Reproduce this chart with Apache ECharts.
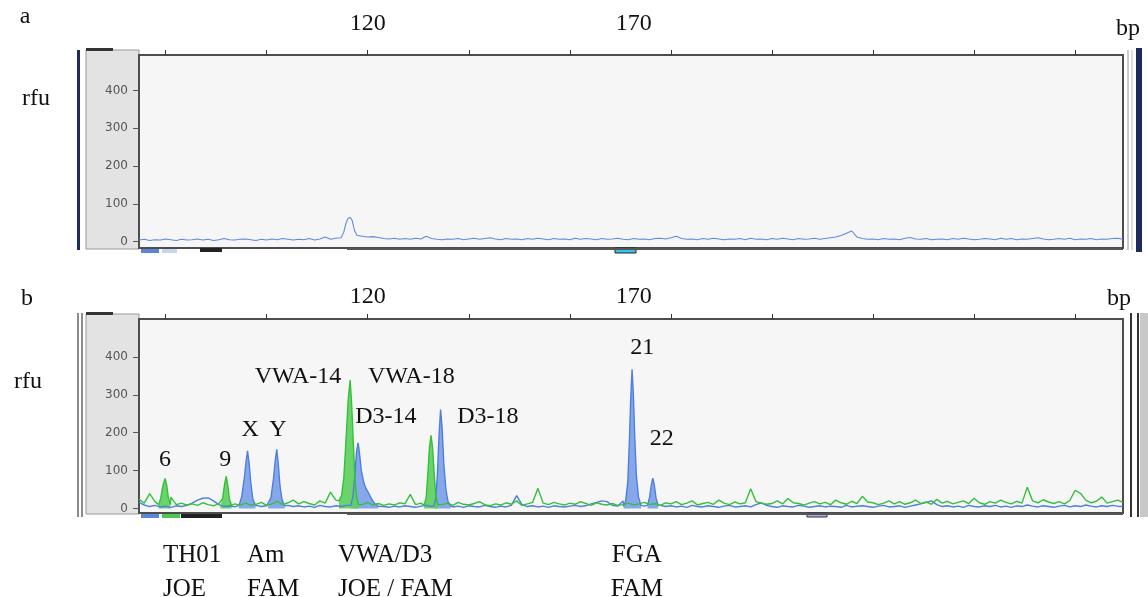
<!DOCTYPE html>
<html>
<head>
<meta charset="utf-8">
<title>Electropherogram</title>
<script src="https://cdn.jsdelivr.net/npm/echarts@6/dist/echarts.min.js"></script>
<style>
  html, body { margin: 0; padding: 0; background: #fff; }
  #main { width: 1148px; height: 597px; }
</style>
</head>
<body>
<div id="main"></div>
<script>
  // x axis in bp, samples every 1 bp starting at X_START
  const X_MIN = 77, X_MAX = 262, X_START = 77;
  const xTicks = [82, 101, 120, 139, 158, 177, 196, 215, 234, 253];
  const xTickLabels = [120, 170];
  const yTickValues = [0, 100, 200, 300, 400];

  // panel a: blue trace (rfu), bp 77..262
  const traceA = [
    4, 6, 3, 5, 4, 7, 5, 3, 6, 4,
    5, 7, 4, 6, 3, 5, 8, 5, 4, 6,
    7, 5, 3, 6, 4, 7, 5, 8, 6, 4,
    6, 5, 8, 4, 7, 12, 6, 9, 12, 40,
    60, 20, 14, 12, 13, 11, 8, 7, 9, 6,
    8, 6, 9, 7, 14, 8, 6, 5, 7, 6,
    8, 5, 7, 9, 6, 8, 10, 7, 5, 8,
    6, 7, 5, 8, 6, 9, 7, 5, 8, 6,
    7, 5, 9, 6, 8, 7, 5, 8, 6, 7,
    9, 6, 5, 8, 6, 7, 5, 8, 9, 7,
    10, 14, 8, 6, 7, 5, 8, 6, 9, 7,
    5, 7, 6, 8, 5, 9, 6, 7, 5, 8,
    6, 9, 7, 5, 8, 6, 7, 9, 6, 8,
    10, 12, 16, 22, 28, 12, 8, 6, 7, 5,
    8, 6, 7, 5, 9, 11, 7, 6, 8, 5,
    6, 7, 5, 8, 6, 9, 7, 5, 6, 8,
    7, 5, 9, 6, 8, 5, 7, 6, 8, 10,
    7, 5, 6, 8, 6, 9, 5, 7, 6, 8,
    5, 7, 6, 8, 9, 6
  ];
  const peakA = [[115.0, 10], [115.5, 25], [115.9, 48], [116.3, 62], [116.7, 64], [117.1, 55], [117.5, 30], [118.0, 16]];

  // panel b: blue (FAM) and green (JOE) traces, bp 77..262
  const blueB = [
    16, 9, 5, 8, 4, 6, 3, 7, 5, 8,
    14, 22, 27, 28, 20, 10, 5, 7, 4, 6,
    60, 30, 8, 5, 7, 6, 40, 70, 8, 5,
    7, 4, 6, 3, 8, 5, 4, 7, 5, 8,
    30, 170, 80, 40, 22, 8, 5, 3, 6, 4,
    7, 5, 3, 6, 8, 5, 40, 180, 7, 4,
    6, 3, 7, 5, 4, 8, 5, 3, 6, 4,
    8, 34, 10, 5, 7, 4, 6, 3, 7, 5,
    4, 6, 8, 5, 7, 12, 16, 20, 18, 8,
    6, 20, 300, 180, 10, 6, 60, 40, 8, 5,
    7, 4, 6, 3, 8, 5, 4, 7, 5, 3,
    6, 8, 4, 5, 7, 4, 10, 15, 8, 5,
    3, 7, 5, 4, 8, 6, 3, 5, 7, 4,
    6, 5, 3, 8, 4, 6, 7, 5, 3, 6,
    8, 4, 5, 7, 3, 6, 9, 12, 16, 20,
    10, 5, 7, 4, 6, 3, 8, 5, 4, 7,
    5, 8, 4, 6, 3, 7, 5, 9, 6, 4,
    7, 5, 3, 6, 8, 4, 7, 5, 9, 6,
    4, 7, 5, 8, 6, 5
  ];
  const greenB = [
    24, 14, 39, 18, 40, 70, 30, 10, 14, 9,
    12, 8, 15, 10, 7, 13, 50, 30, 12, 8,
    14, 9, 11, 16, 8, 12, 19, 10, 15, 22,
    12, 18, 13, 9, 20, 14, 43, 22, 60, 300,
    200, 30, 10, 16, 9, 13, 8, 12, 9, 15,
    12, 37, 10, 14, 80, 150, 30, 10, 14, 8,
    16, 11, 9, 13, 18, 10, 7, 12, 9, 15,
    11, 20, 8, 12, 16, 53, 14, 10, 16, 12,
    9, 14, 11, 18, 13, 8, 15, 11, 9, 13,
    8, 10, 14, 9, 12, 16, 10, 13, 8, 15,
    12, 18, 10, 14, 20, 9, 13, 16, 11, 22,
    14, 10, 17, 12, 15, 52, 18, 14, 11, 13,
    20, 12, 26, 15, 13, 9, 14, 18, 12, 16,
    10, 22, 15, 11, 19, 13, 32, 17, 15, 10,
    14, 20, 12, 18, 11, 15, 22, 13, 17, 11,
    24, 14, 19, 12, 16, 20, 13, 27, 15, 11,
    18, 14, 22, 16, 12, 19, 14, 56, 20, 15,
    23, 17, 13, 18, 12, 21, 48, 40, 22, 15,
    19, 30, 14, 18, 22, 16
  ];

  // called peaks, finer sampling [bp, rfu]
  const peakX = [[95.8, 8], [96.3, 30], [96.8, 80], [97.1, 120], [97.4, 152], [97.7, 120], [98.0, 70], [98.4, 25], [98.9, 8]];
  const peakY = [[101.3, 8], [101.8, 28], [102.3, 80], [102.6, 125], [102.9, 156], [103.2, 115], [103.5, 60], [103.9, 22], [104.4, 7]];
  const peakD314 = [[116.8, 8], [117.2, 30], [117.6, 90], [117.9, 150], [118.2, 173], [118.5, 140], [118.8, 100], [119.2, 72], [119.6, 55], [120.1, 42], [120.7, 26], [121.3, 13], [122.0, 6]];
  const peakD318 = [[132.4, 6], [132.8, 25], [133.1, 90], [133.4, 190], [133.7, 261], [134.0, 210], [134.3, 120], [134.7, 50], [135.1, 18], [135.6, 6]];
  const peak21 = [[168.1, 6], [168.5, 20], [168.9, 70], [169.2, 180], [169.45, 290], [169.7, 367], [169.95, 300], [170.2, 190], [170.5, 90], [170.9, 30], [171.4, 8]];
  const peak22 = [[172.6, 8], [173.0, 30], [173.3, 60], [173.6, 80], [173.9, 60], [174.2, 28], [174.6, 8]];
  const peak6 = [[80.7, 10], [81.1, 28], [81.5, 60], [81.9, 79], [82.2, 62], [82.5, 30], [82.9, 10]];
  const peak9 = [[92.3, 8], [92.7, 25], [93.1, 65], [93.4, 85], [93.7, 60], [94.0, 25], [94.4, 8]];
  const peakVWA14 = [[114.6, 20], [115.1, 35], [115.5, 80], [115.8, 150], [116.05, 215], [116.35, 290], [116.7, 339], [117.0, 270], [117.3, 170], [117.6, 80], [117.9, 30], [118.3, 10]];
  const peakVWA18 = [[130.6, 8], [131.0, 30], [131.3, 90], [131.6, 160], [131.9, 193], [132.2, 160], [132.5, 90], [132.8, 35], [133.2, 10]];
  const bluePeaks = [peakX, peakY, peakD314, peakD318, peak21, peak22];
  const greenPeaks = [peak6, peak9, peakVWA14, peakVWA18];

  // annotations
  const peakLabels = [
    [81.9, 128, '6'], [93.2, 128, '9'], [97.9, 207, 'X'], [103.1, 207, 'Y'],
    [106.9, 347, 'VWA-14'], [128.2, 347, 'VWA-18'], [123.4, 241, 'D3-14'],
    [142.6, 241, 'D3-18'], [171.6, 423, '21'], [175.3, 183, '22']
  ];
  const locusLabels = [
    {bp: 81.5, text: 'TH01\nJOE', align: 'left'},
    {bp: 97.3, text: 'Am\nFAM', align: 'left'},
    {bp: 114.4, text: 'VWA/D3\nJOE / FAM', align: 'left'},
    {bp: 170.6, text: 'FGA\nFAM', align: 'center'}
  ];

  const SERIF = "'Liberation Serif', 'Times New Roman', serif";
  const BLUE = '#4f7fdc', BLUE_FILL = '#7aa0ea', GREEN = '#34c03a', GREEN_FILL = '#5ccf5c';

  function buildTrace(base, peaks) {
    let pts = [];
    base.forEach((v, i) => {
      const bp = X_START + i;
      const inPeak = peaks.some(p => bp >= p[0][0] && bp <= p[p.length - 1][0]);
      if (!inPeak) pts.push([bp, v]);
    });
    peaks.forEach(p => p.forEach(pt => pts.push(pt)));
    return pts.sort((a, b) => a[0] - b[0]);
  }

  function fillSeries(peaks, color) {
    return peaks.map(p => ({
      type: 'line', xAxisIndex: 1, yAxisIndex: 1, data: p,
      symbol: 'none', silent: true, z: 1,
      lineStyle: {width: 0},
      areaStyle: {color: color, opacity: 0.9}
    }));
  }

  function xAxisFor(idx, margin) {
    return {
      gridIndex: idx, type: 'value', position: 'top', min: X_MIN, max: X_MAX,
      axisLine: {show: false, onZero: false}, splitLine: {show: false},
      axisTick: {customValues: xTicks, length: 5, lineStyle: {color: '#333', width: 1}},
      axisLabel: {customValues: xTickLabels, margin: margin, fontSize: 24, lineHeight: 24,
        fontFamily: SERIF, color: '#111'}
    };
  }

  function yAxisFor(idx, min, max) {
    return {
      gridIndex: idx, type: 'value', min: min, max: max,
      axisLine: {show: false, onZero: false}, splitLine: {show: false},
      axisTick: {customValues: yTickValues, length: 6, lineStyle: {color: '#555'}},
      axisLabel: {customValues: yTickValues, margin: 11, fontSize: 12,
        fontFamily: 'DejaVu Sans', color: '#555'}
    };
  }

  const chart = echarts.init(document.getElementById('main'));
  const gridStyle = {show: true, backgroundColor: '#f6f6f6', borderColor: '#4d4d4d', borderWidth: 2};

  chart.setOption({
    animation: false,
    grid: [
      Object.assign({left: 139, top: 55, width: 984, height: 193}, gridStyle),
      Object.assign({left: 139, top: 319, width: 984, height: 194}, gridStyle)
    ],
    xAxis: [xAxisFor(0, 19), xAxisFor(1, 10)],
    yAxis: [yAxisFor(0, -17, 494), yAxisFor(1, -12, 500)],
    series: [
      {
        type: 'line', xAxisIndex: 0, yAxisIndex: 0, data: buildTrace(traceA, [peakA]),
        symbol: 'none', lineStyle: {color: '#6189dc', width: 1.1}, z: 3
      },
      ...fillSeries(bluePeaks, BLUE_FILL),
      ...fillSeries(greenPeaks, GREEN_FILL),
      {
        type: 'line', xAxisIndex: 1, yAxisIndex: 1, data: buildTrace(blueB, bluePeaks),
        symbol: 'none', lineStyle: {color: BLUE, width: 1.4}, z: 3
      },
      {
        type: 'line', xAxisIndex: 1, yAxisIndex: 1, data: buildTrace(greenB, greenPeaks),
        symbol: 'none', lineStyle: {color: GREEN, width: 1.4}, z: 3
      },
      {
        type: 'scatter', xAxisIndex: 1, yAxisIndex: 1, data: peakLabels,
        symbolSize: 0, silent: true, z: 5, itemStyle: {opacity: 1},
        label: {show: true, position: 'inside', formatter: p => p.value[2],
          fontSize: 24, fontFamily: SERIF, color: '#111'}
      }
    ]
  });

  // window chrome around the two panels
  const graphics = [
    // panel a
    {type: 'rect', shape: {x: 77, y: 50, width: 3, height: 200}, style: {fill: '#1d2b5e'}, z: -10},
    {type: 'rect', shape: {x: 86, y: 50, width: 53, height: 199}, style: {fill: '#e3e3e3', stroke: '#9a9a9a'}, z: -10},
    {type: 'rect', shape: {x: 86, y: 48, width: 27, height: 3}, style: {fill: '#333'}},
    {type: 'line', shape: {x1: 1128, y1: 50, x2: 1128, y2: 250}, style: {stroke: '#999'}},
    {type: 'line', shape: {x1: 1132, y1: 50, x2: 1132, y2: 250}, style: {stroke: '#bbb'}},
    {type: 'rect', shape: {x: 1136, y: 48, width: 6, height: 204}, style: {fill: '#1d2b5e'}},
    {type: 'rect', shape: {x: 141, y: 249, width: 18, height: 4}, style: {fill: '#5b85d8'}},
    {type: 'rect', shape: {x: 162, y: 249, width: 15, height: 4}, style: {fill: '#c8d4f0'}},
    {type: 'rect', shape: {x: 200, y: 248, width: 22, height: 4}, style: {fill: '#222'}},
    {type: 'rect', shape: {x: 615, y: 248, width: 21, height: 5}, style: {fill: '#33c6ea', stroke: '#222'}},
    {type: 'line', shape: {x1: 347, y1: 249, x2: 1123, y2: 249}, style: {stroke: '#555', lineWidth: 2}},
    // panel b
    {type: 'line', shape: {x1: 78, y1: 313, x2: 78, y2: 517}, style: {stroke: '#666', lineWidth: 1.5}},
    {type: 'line', shape: {x1: 82, y1: 313, x2: 82, y2: 517}, style: {stroke: '#666', lineWidth: 1.5}},
    {type: 'rect', shape: {x: 86, y: 314, width: 53, height: 200}, style: {fill: '#e3e3e3', stroke: '#9a9a9a'}, z: -10},
    {type: 'rect', shape: {x: 86, y: 312, width: 27, height: 3}, style: {fill: '#333'}},
    {type: 'line', shape: {x1: 1131, y1: 313, x2: 1131, y2: 517}, style: {stroke: '#333', lineWidth: 2}},
    {type: 'line', shape: {x1: 1138, y1: 313, x2: 1138, y2: 517}, style: {stroke: '#333', lineWidth: 2}},
    {type: 'rect', shape: {x: 1140, y: 313, width: 8, height: 204}, style: {fill: '#c8c8c8'}},
    {type: 'rect', shape: {x: 141, y: 514, width: 18, height: 4}, style: {fill: '#5b85d8'}},
    {type: 'rect', shape: {x: 162, y: 514, width: 18, height: 4}, style: {fill: '#4cc94c'}},
    {type: 'rect', shape: {x: 181, y: 514, width: 41, height: 4}, style: {fill: '#222'}},
    {type: 'rect', shape: {x: 807, y: 513, width: 20, height: 4}, style: {fill: '#a9a9f5', stroke: '#333'}},
    {type: 'line', shape: {x1: 347, y1: 514, x2: 1123, y2: 514}, style: {stroke: '#555', lineWidth: 2}},
    // panel letters and units
    {type: 'text', x: 25, y: 17, style: {text: 'a', font: '24px ' + SERIF, fill: '#111', textAlign: 'center', textVerticalAlign: 'middle'}},
    {type: 'text', x: 27, y: 299, style: {text: 'b', font: '24px ' + SERIF, fill: '#111', textAlign: 'center', textVerticalAlign: 'middle'}},
    {type: 'text', x: 36, y: 99, style: {text: 'rfu', font: '24px ' + SERIF, fill: '#111', textAlign: 'center', textVerticalAlign: 'middle'}},
    {type: 'text', x: 28, y: 382, style: {text: 'rfu', font: '24px ' + SERIF, fill: '#111', textAlign: 'center', textVerticalAlign: 'middle'}},
    {type: 'text', x: 1128, y: 29, style: {text: 'bp', font: '24px ' + SERIF, fill: '#111', textAlign: 'center', textVerticalAlign: 'middle'}},
    {type: 'text', x: 1119, y: 299, style: {text: 'bp', font: '24px ' + SERIF, fill: '#111', textAlign: 'center', textVerticalAlign: 'middle'}}
  ];

  // locus / dye labels below panel b, anchored at their bp position
  locusLabels.forEach(l => {
    const px = chart.convertToPixel({xAxisIndex: 1}, l.bp);
    graphics.push({
      type: 'text', x: px, y: 572,
      style: {text: l.text, font: '25px ' + SERIF, lineHeight: 34, fill: '#111',
        textAlign: l.align, textVerticalAlign: 'middle'}
    });
  });

  chart.setOption({graphic: graphics});
</script>
</body>
</html>
